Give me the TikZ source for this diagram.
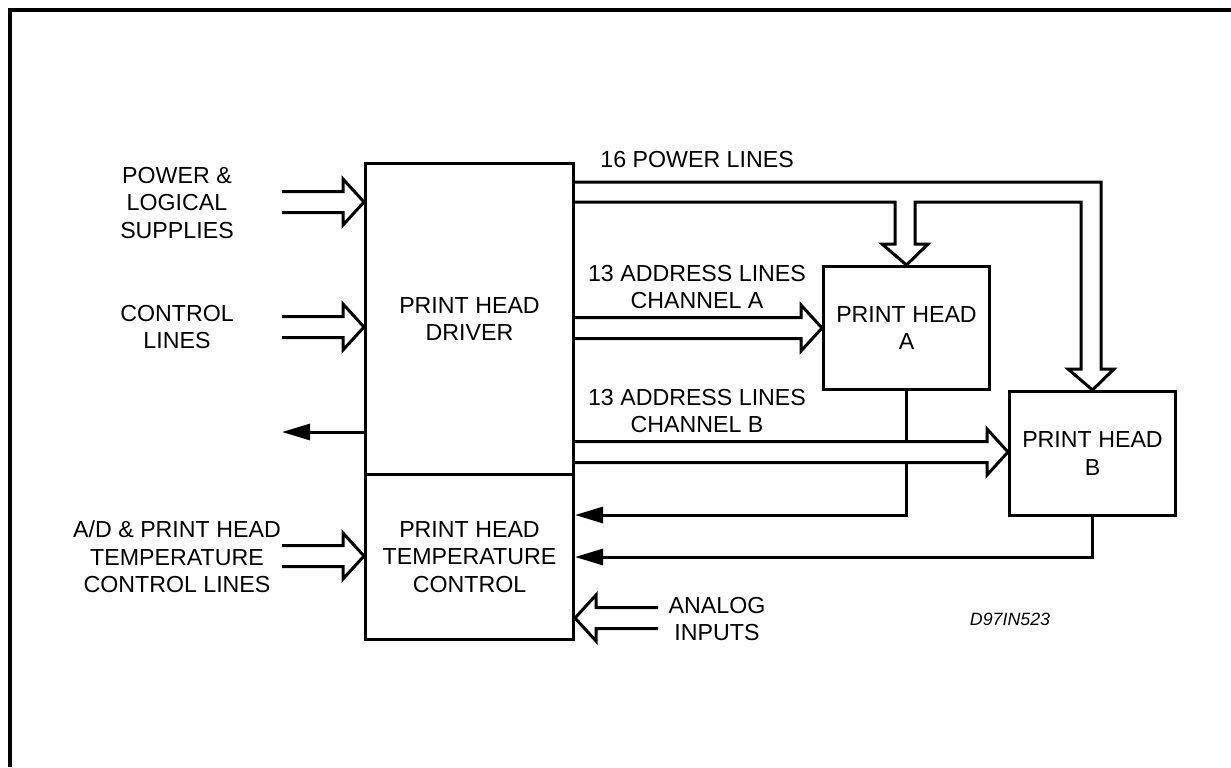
\documentclass[tikz,border=0pt]{standalone}
\usepackage{fontspec}
\setmainfont{Liberation Sans}
\usetikzlibrary{arrows.meta,backgrounds,calc}
\newcommand\lblfont{\fontsize{11.6}{13.8}\selectfont}
\tikzset{pics/harr/.style={code={%
  \draw[hol] (-21-#1,-10.5) -- (-21,-10.5) -- (-21,-23) -- (0,0) -- (-21,23) -- (-21,10.5) -- (-21-#1,10.5);}}}
\begin{document}
\begin{tikzpicture}[x=0.5pt,y=-0.5pt,
  lw/.style={line width=1.5pt},
  box/.style={draw,lw,inner sep=0pt,anchor=north west,align=center,font=\lblfont},
  lbl/.style={inner sep=0pt,align=center,font=\lblfont},
  hol/.style={lw,fill=white,line join=miter},
  sol/.style={lw,-{Triangle[length=14pt,width=8pt]}},
]
\useasboundingbox (0,0) rectangle (1231,767);
\draw[line width=1.7pt] (10,767) -- (10,10) -- (1231,10);

% blocks
\node[box,minimum width=104pt,minimum height=155.5pt] (drv) at (364,162) {PRINT HEAD\\DRIVER};
\node[box,minimum width=104pt,minimum height=82.5pt] (tmp) at (364,473) {PRINT HEAD\\TEMPERATURE\\CONTROL};
\node[box,minimum width=83pt,minimum height=61.5pt] (pha) at (822,265) {PRINT HEAD\\A};
\node[box,minimum width=83pt,minimum height=62pt] (phb) at (1008,390) {PRINT HEAD\\B};

% labels
\node[lbl] (pw) at (177,203) {POWER \&\\LOGICAL\\SUPPLIES};
\node[lbl] (cl) at (177,327) {CONTROL\\LINES};
\node[lbl] (ad) at (177,557) {A/D \& PRINT HEAD\\TEMPERATURE\\CONTROL LINES};
\node[lbl,anchor=west] (p16) at (600,160) {16 POWER LINES};
\node[lbl] (ala) at (697,287) {13 ADDRESS LINES\\CHANNEL A};
\node[lbl] (alb) at (697,411) {13 ADDRESS LINES\\CHANNEL B};
\node[lbl] (ana) at (717,619) {ANALOG\\INPUTS};
\node[lbl,font=\fontsize{8.9}{10}\selectfont\itshape] (code) at (1010,619) {D97IN523};
\coordinate (out) at (282,432);

\begin{scope}[on background layer]
  % input hollow arrows
  \pic at (drv.west |- 0,202) {harr=61};
  \pic at (drv.west |- 0,327) {harr=61};
  \pic at (tmp.west |- 0,556) {harr=61};
  % output of driver
  \draw[sol] (drv.west |- out) -- (out);
  % power lines
  \draw[hol] (drv.east |- 0,182) -- (1101,182) -- (1101,369) -- (1114,369) -- (phb.north)
     -- (1068,369) -- (1081,369) -- (1081,202) -- (915,202) -- (915,244) -- (928,244)
     -- (pha.north) -- (882,244) -- (895,244) -- (895,202) -- (drv.east |- 0,202);
  % return lines
  \draw[sol] (pha.south) -- (pha.south |- 0,515) -- (tmp.east |- 0,515);
  \draw[sol] (phb.south) -- (phb.south |- 0,557) -- (tmp.east |- 0,557);
  % address lines
  \pic at (pha.west |- 0,328) {harr=229};
  \pic at (phb.west |- 0,452) {harr=415};
  % analog inputs
  \pic[rotate=180] at (tmp.east |- 0,618) {harr=62};
\end{scope}
\end{tikzpicture}
\end{document}
